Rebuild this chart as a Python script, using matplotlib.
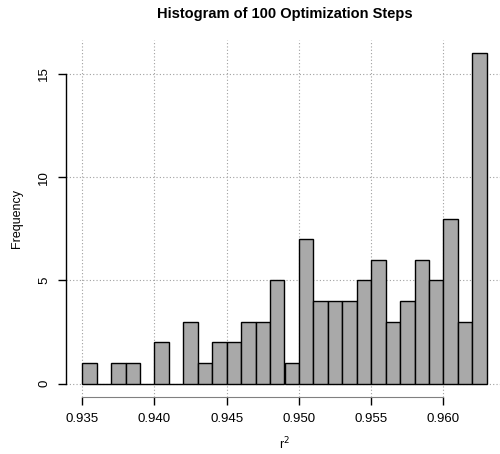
import numpy as np
import matplotlib
matplotlib.use("Agg")
import matplotlib.pyplot as plt

plt.rcParams['font.family'] = ['Liberation Sans', 'DejaVu Sans']

# histogram of r^2 over 100 optimisation steps, bin width 0.001
bin_lefts = [0.935, 0.936, 0.937, 0.938, 0.939, 0.940, 0.941, 0.942, 0.943, 0.944,
             0.945, 0.946, 0.947, 0.948, 0.949, 0.950, 0.951, 0.952, 0.953, 0.954,
             0.955, 0.956, 0.957, 0.958, 0.959, 0.960, 0.961, 0.962]
counts = [1, 0, 1, 1, 0, 2, 0, 3, 1, 2,
          2, 3, 3, 5, 1, 7, 4, 4, 4, 5,
          6, 3, 4, 6, 5, 8, 3, 16]
x_ticks = [0.935, 0.940, 0.945, 0.950, 0.955, 0.960]
x_labels = ["0.935", "0.940", "0.945", "0.950", "0.955", "0.960"]
y_ticks = [0, 5, 10, 15]

fig = plt.figure(figsize=(5.0, 4.54), dpi=100)
ax = fig.add_axes([66 / 500, 57 / 454, 437 / 500, 357 / 454])

ax.bar(bin_lefts, counts, width=0.001, align='edge', color='#a9a9a9',
       edgecolor='black', linewidth=1.0, zorder=3)

# R-style range: 4% padding on both sides
lo, hi = bin_lefts[0], bin_lefts[-1] + 0.001
pad = 0.04 * (hi - lo)
ax.set_xlim(lo - pad, hi + pad)
ax.set_ylim(-0.04 * 16, 16 * 1.04)

ax.set_xticks(x_ticks)
ax.set_xticklabels(x_labels, fontsize=9.5)
ax.set_yticks(y_ticks)
ax.set_yticklabels([str(v) for v in y_ticks], fontsize=9.5, rotation=90, va='center')
ax.tick_params(axis='both', length=5.5, width=1.0, color='black', pad=6)

ax.grid(True, linestyle=(0, (1, 2)), color='#a0a0a0', linewidth=0.8, zorder=0)

for s in ['top', 'right']:
    ax.spines[s].set_visible(False)
ax.spines['left'].set_bounds(0, 15)
ax.spines['bottom'].set_bounds(0.935, 0.960)
ax.spines['bottom'].set_color('#808080')
ax.spines['left'].set_linewidth(1.0)

ax.set_title("Histogram of 100 Optimization Steps", fontsize=10.5, fontweight='bold', pad=16)
ax.set_xlabel("r$^2$", fontsize=9, labelpad=8)
ax.set_ylabel("Frequency", fontsize=9, labelpad=11)

fig.savefig("out.png", dpi=100)
